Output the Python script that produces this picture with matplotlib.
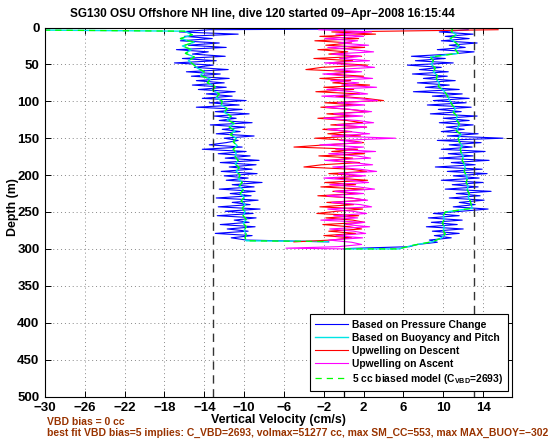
import numpy as np
import matplotlib
matplotlib.use("Agg")
import matplotlib.pyplot as plt

plt.rcParams['font.family'] = ['Liberation Sans', 'DejaVu Sans']
plt.rcParams['font.weight'] = 'bold'
plt.rcParams['mathtext.fontset'] = 'custom'
plt.rcParams['mathtext.rm'] = 'Liberation Sans:bold'
plt.rcParams['mathtext.it'] = 'Liberation Sans:bold'
plt.rcParams['mathtext.bf'] = 'Liberation Sans:bold'

# ---------------- data ----------------
title_text = "SG130 OSU Offshore NH line, dive 120 started 09\u2212Apr\u22122008 16:15:44"
xlabel_text = "Vertical Velocity (cm/s)"
ylabel_text = "Depth (m)"
note1 = "VBD bias = 0 cc"
note2 = "best fit VBD bias=5 implies: C_VBD=2693, volmax=51277 cc, max SM_CC=553, max MAX_BUOY=\u2212302"
legend_labels = ["Based on Pressure Change", "Based on Buoyancy and Pitch",
                 "Upwelling on Descent", "Upwelling on Ascent",
                 r"5 cc biased model (C$_{\rm VBD}$=2693)"]

x_ticks = list(range(-30, 15, 4))
y_ticks = list(range(0, 501, 50))

# descent, vertical velocity from pressure change (depth 3..288 every 3 m)
desc_pc = [-13.5, -16.5, -10.6, -16.0, -13.2, -16.4, -12.5, -15.6, -11.8, -16.8,
           -13.6, -15.2, -11.9, -16.2, -12.8, -17.0, -13.1, -15.0, -11.6, -15.8,
           -12.4, -15.3, -11.5, -14.8, -12.0, -15.2, -11.8, -14.6, -10.9, -13.8,
           -11.2, -14.2, -9.8, -13.5, -10.5, -14.8, -10.2, -12.9, -9.5, -13.0,
           -10.8, -12.5, -9.2, -13.4, -9.9, -12.2, -10.4, -12.8, -9.0, -12.0,
           -10.6, -11.8, -13.5, -10.2, -14.2, -9.8, -12.6, -9.4, -11.9, -8.5,
           -12.4, -8.8, -11.5, -9.2, -12.3, -8.7, -12.0, -9.6, -11.8, -8.2,
           -11.2, -9.0, -12.5, -8.9, -11.4, -9.3, -12.8, -8.6, -11.2, -9.4,
           -12.6, -8.4, -11.9, -9.1, -12.7, -8.8, -11.0, -9.5, -12.4, -8.9,
           -11.7, -9.6, -12.9, -9.2, -11.3, -9.8]
desc_pc_surface = [0.5, 25.0]     # depth, value
desc_pc_bottom = [290.5, -1.5]

# ascent, vertical velocity from pressure change (depth 3..297 every 3 m)
asc_pc = [12.5, 9.6, 13.0, 10.2, 12.6, 9.8, 13.4, 10.6, 12.2, 9.4,
          13.1, 10.8, 6.8, 10.2, 7.2, 11.0, 6.4, 9.8, 7.6, 10.5,
          6.9, 10.4, 8.0, 11.2, 7.4, 10.6, 8.2, 11.6, 7.0, 11.9,
          8.9, 12.6, 9.0, 12.3, 8.4, 12.8, 9.5, 11.8, 8.7, 13.4,
          10.0, 12.6, 9.6, 13.0, 10.3, 12.1, 9.8, 13.5, 10.4, 16.0,
          9.4, 13.8, 10.6, 12.9, 9.8, 14.2, 10.5, 13.0, 9.6, 14.6,
          10.8, 13.2, 9.2, 13.9, 10.4, 14.4, 11.0, 13.6, 9.8, 14.0,
          10.9, 13.5, 10.2, 14.8, 11.3, 13.7, 10.6, 14.1, 11.6, 13.2,
          11.0, 14.5, 11.8, 9.0, 11.6, 8.5, 11.9, 8.8, 11.4, 8.3,
          12.0, 8.9, 11.6, 9.1, 10.8, 8.6, 9.4, 7.4, 6.6]
asc_pc_bottom = [299.5, 0.3]

# upwelling on descent (depth 3..288 every 3 m)
up_desc = [15.5, -1.2, 3.2, -2.4, 1.5, -2.9, 0.8, -1.8, 2.1, -2.6,
           0.4, -1.5, 1.8, -3.0, 0.9, -1.4, 2.4, -2.2, -3.8, 1.2,
           -1.6, 2.0, -2.4, 0.7, -1.1, 2.6, -2.0, 1.0, -2.8, 1.6,
           -0.8, 2.2, 4.0, -1.9, 1.3, -2.3, 0.6, 2.5, -1.7, 1.1,
           -2.6, 0.3, 1.9, -1.3, 2.3, -2.1, 0.8, -1.6, 1.7, -2.9,
           0.5, 2.0, -1.8, -5.0, 1.4, -1.2, 2.1, -2.5, 0.9, -1.4,
           1.6, -2.2, -4.0, 0.7, 2.3, -1.5, 1.8, -0.9, 2.4, -1.9,
           1.2, -2.3, 2.0, -1.1, 1.5, -2.6, 0.8, 2.2, -1.7, 1.0,
           -2.4, 1.9, -0.7, -2.7, 1.5, -1.8, 0.9, 2.1, -2.1, 0.6,
           1.8, -1.5, 1.2, -2.0, 0.8, -1.3]
up_desc_bottom = [290.5, -5.0]

# upwelling on ascent (depth 3..297 every 3 m)
up_asc = [-2.5, 2.8, -0.8, 2.0, -1.9, 1.4, -0.5, 2.5, -1.6, 0.9,
          3.0, -1.2, 1.7, -0.4, 2.6, -1.9, 1.1, 3.1, -0.9, 1.8,
          -2.1, 0.6, 2.9, -1.3, 1.5, -0.2, 3.3, -1.7, 0.9, 2.4,
          -2.2, 1.2, 3.4, -0.6, 2.1, -1.8, 0.7, 2.8, -1.0, 1.9,
          -2.0, 1.4, 3.0, -0.7, 2.3, -1.6, 0.5, 2.6, -1.2, 5.2,
          -0.4, 1.8, -2.4, 2.0, -0.8, 3.2, -1.5, 1.3, 2.7, -1.9,
          0.9, 2.9, -1.1, 1.6, 3.3, -0.5, 2.2, -2.0, 0.8, 2.5,
          -1.4, 1.5, 3.1, -0.9, 2.0, -1.7, 0.6, 2.4, -1.2, 1.7,
          2.8, -1.6, 0.9, 2.3, -1.0, 1.4, -2.3, 2.1, 0.2, 2.6,
          -1.4, 1.0, 2.2, -0.8, 1.9, -1.5, 0.8, 1.8, -0.6]
up_asc_bottom_depth = [299.0, 300.0]
up_asc_bottom_vals = [-5.8, 0.0]

# buoyancy & pitch model, descent (depth 5..285 every 5 m)
desc_bp = [-16.0, -15.2, -16.4, -15.0, -16.2, -15.3, -15.9, -15.0, -15.6, -15.1,
           -14.7, -14.0, -14.4, -13.4, -13.7, -12.9, -13.2, -12.5, -12.8, -12.2,
           -12.3, -11.7, -12.0, -11.3, -11.7, -11.0, -11.5, -10.9, -11.4, -10.8,
           -11.1, -10.7, -11.1, -10.8, -10.9, -10.6, -10.9, -10.5, -10.8, -10.4,
           -10.6, -10.2, -10.5, -10.1, -10.4, -10.0, -10.3, -9.9, -10.2, -9.9,
           -10.1, -9.8, -10.1, -9.8, -10.0, -9.8, -9.9]
desc_bp_surface_depth = [2.5]
desc_bp_surface_vals = [-40.0]
desc_bp_bottom_depth = [289.0, 290.0]
desc_bp_bottom_vals = [-9.8, -1.6]

# buoyancy & pitch model, ascent (depth 0..300 every 5 m)
asc_bp = [11.0, 10.8, 11.3, 10.7, 11.2, 11.6, 11.2, 11.5, 8.7, 9.0,
          8.8, 9.2, 9.0, 9.4, 9.3, 9.6, 9.5, 10.0, 10.3, 10.5,
          10.7, 10.9, 11.2, 11.0, 11.4, 11.3, 11.6, 11.5, 11.3, 11.8,
          11.5, 11.6, 11.9, 11.7, 11.8, 12.0, 11.9, 12.1, 12.2, 12.1,
          12.3, 12.4, 12.3, 12.5, 12.4, 12.6, 12.5, 12.7, 12.8, 12.9,
          10.2, 10.0, 10.1, 9.9, 10.1, 10.0, 10.2, 9.8, 9.0, 7.0,
          5.5]
asc_bp_bottom = [300.0, 0.0]

model_bounds = [-13.1, 13.1]   # dashed limits of the biased model
zero_line = 0.0

# ---------------- assemble ----------------
d3_desc = 3.0 * np.arange(1, len(desc_pc) + 1)
d3_asc = 3.0 * np.arange(1, len(asc_pc) + 1)
d5_desc = 5.0 * np.arange(1, len(desc_bp) + 1)
d5_asc = 5.0 * np.arange(0, len(asc_bp))

pc_d = np.concatenate([[desc_pc_surface[0]], d3_desc, [desc_pc_bottom[0]]])
pc_v = np.concatenate([[desc_pc_surface[1]], desc_pc, [desc_pc_bottom[1]]])
pca_d = np.concatenate([d3_asc, [asc_pc_bottom[0]]])
pca_v = np.concatenate([asc_pc, [asc_pc_bottom[1]]])

bp_d = np.concatenate([desc_bp_surface_depth, d5_desc, desc_bp_bottom_depth])
bp_v = np.concatenate([desc_bp_surface_vals, desc_bp, desc_bp_bottom_vals])
bpa_d = np.concatenate([d5_asc, [asc_bp_bottom[0]]])
bpa_v = np.concatenate([asc_bp, [asc_bp_bottom[1]]])

ud_d = np.concatenate([3.0 * np.arange(1, len(up_desc) + 1), [up_desc_bottom[0]]])
ud_v = np.concatenate([up_desc, [up_desc_bottom[1]]])
ua_d = np.concatenate([3.0 * np.arange(1, len(up_asc) + 1), up_asc_bottom_depth])
ua_v = np.concatenate([up_asc, up_asc_bottom_vals])

# ---------------- figure ----------------
W, H = 554, 442
fig = plt.figure(figsize=(W / 100, H / 100), dpi=100)
L, R, T, B = 45, 512, 27.5, 396.5
ax = fig.add_axes([L / W, 1 - B / H, (R - L) / W, (B - T) / H])

lw = 0.8
l1, = ax.plot(pc_v, pc_d, color='#0000ff', lw=lw)
ax.plot(pca_v, pca_d, color='#0000ff', lw=lw)
l2, = ax.plot(bp_v, bp_d, color='#00e5e5', lw=1.0)
ax.plot(bpa_v, bpa_d, color='#00e5e5', lw=1.0)
l3, = ax.plot(ud_v, ud_d, color='#ff0000', lw=lw)
l4, = ax.plot(ua_v, ua_d, color='#ff00ff', lw=lw)
l5, = ax.plot(bp_v, bp_d, color='#00ff00', lw=0.9, ls=(0, (5, 4)))
ax.plot(bpa_v, bpa_d, color='#00ff00', lw=0.9, ls=(0, (5, 4)))

ax.axvline(zero_line, color='black', lw=0.9)
for xb in model_bounds:
    ax.axvline(xb, color='#333333', lw=1.0, ls=(0, (6, 4)))

ax.set_xlim(-30, 16.9)
ax.set_ylim(500, 0)
ax.set_xticks(x_ticks)
ax.set_yticks(y_ticks)
ax.set_xticklabels([str(t).replace('-', '\u2212') for t in x_ticks])
ax.set_yticklabels([str(t) for t in y_ticks])
ax.tick_params(direction='in', length=4, width=0.7, top=True, right=True,
               labelsize=9.5, pad=4)
for lab in ax.get_xticklabels() + ax.get_yticklabels():
    lab.set_fontweight('bold')
ax.grid(True, color='#888888', ls=(0, (1, 3)), lw=0.7)
for s in ax.spines.values():
    s.set_linewidth(0.8)

ax.set_xlabel(xlabel_text, fontsize=8.9, fontweight='bold', va='center')
ax.xaxis.set_label_coords(0.5, (B - 420) / (B - T))
ax.set_ylabel(ylabel_text, fontsize=8.9, fontweight='bold', va='center')
ax.yaxis.set_label_coords((13 - L) / (R - L), (B - 207) / (B - T))

fig.text(262.5 / W, 1 - 14 / H, title_text, ha='center', va='center',
         fontsize=8.5, fontweight='bold')
brown = '#993300'
fig.text(47 / W, 1 - 422 / H, note1, ha='left', va='center', fontsize=7.5,
         fontweight='bold', color=brown)
fig.text(47 / W, 1 - 433 / H, note2, ha='left', va='center', fontsize=7.5,
         fontweight='bold', color=brown)

leg = ax.legend([l1, l2, l3, l4, l5], legend_labels, loc='lower right',
                bbox_to_anchor=((508 - L) / (R - L), (B - 391) / (B - T)),
                borderaxespad=0, frameon=True, fancybox=False,
                edgecolor='black', framealpha=1, handlelength=3.2,
                handletextpad=0.4, labelspacing=0.3, borderpad=0.5,
                prop={'weight': 'bold', 'size': 7.4})
leg.get_frame().set_linewidth(0.8)

fig.savefig('out.png', dpi=100)
